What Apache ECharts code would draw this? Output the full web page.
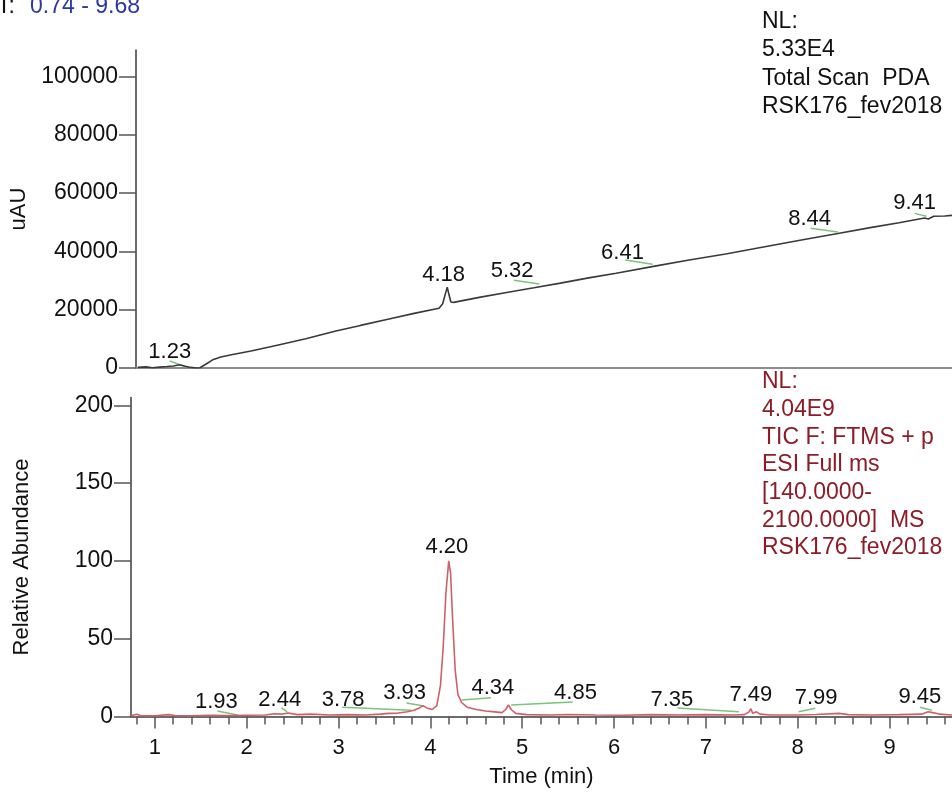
<!DOCTYPE html>
<html>
<head>
<meta charset="utf-8">
<script src="https://cdn.jsdelivr.net/npm/echarts@6/dist/echarts.min.js"></script>
<style>
html,body{margin:0;padding:0;background:#fff;}
#chart{width:952px;height:792px;}
</style>
</head>
<body>
<div id="chart"></div>
<script>
// ---- Top panel (PDA, uAU) ----
const topTime  = [0.76,0.85,0.92,1.00,1.08,1.15,1.22,1.28,1.34,1.40,1.44,1.50,1.58,1.67,1.80,2.00,2.30,2.60,2.93,3.20,3.50,3.80,4.06,4.10,4.13,4.15,4.17,4.19,4.22,4.50,4.80,5.10,5.39,5.70,6.00,6.44,6.80,7.20,7.60,8.00,8.43,8.80,9.10,9.38,9.42,9.48,9.60,9.68];
const topValue = [200,400,100,300,500,700,1100,600,200,0,100,1200,2800,3800,4600,5800,7900,10000,12700,14600,16700,18800,20500,22000,25500,27700,25000,22600,22500,24200,25900,27500,29100,30900,32500,35000,37000,39100,41400,43700,46100,48200,49800,51400,51100,52000,52100,52300];
const topGreenTime  = [1.11,1.29,null,4.88,5.16,null,6.10,6.40,null,8.13,8.43,null,9.27,9.40];
const topGreenValue = [2400,300,null,30100,28800,null,37000,35600,null,47900,46600,null,53000,52000];
const topPeakText  = ['1.23','4.18','5.32','6.41','8.44','9.41'];
const topPeakTime  = [1.11,4.11,4.86,6.07,8.12,9.27];
const topPeakValue = [5500,32000,33300,39500,51000,56500];
const topYLabels = [0,20000,40000,60000,80000,100000];
const topYMinor  = [5000,10000,15000,25000,30000,35000,45000,50000,55000,65000,70000,75000,85000,90000,95000,105000];

// ---- Bottom panel (TIC, relative abundance) ----
const botTime  = [0.74,0.80,0.85,1.00,1.15,1.22,1.40,1.60,1.80,2.00,2.20,2.30,2.38,2.45,2.55,2.70,2.90,3.10,3.30,3.45,3.55,3.65,3.75,3.82,3.88,3.92,3.96,4.02,4.07,4.11,4.14,4.17,4.20,4.22,4.24,4.27,4.30,4.34,4.40,4.50,4.60,4.70,4.78,4.82,4.85,4.88,4.93,5.05,5.30,5.50,5.80,6.10,6.40,6.70,7.00,7.30,7.42,7.47,7.49,7.51,7.55,7.59,7.70,8.00,8.20,8.45,8.55,8.80,9.10,9.35,9.42,9.47,9.55,9.68];
const botValue = [0.5,1.5,0.5,0.5,1.2,0.6,0.5,0.8,0.6,0.8,1.0,1.8,1.5,2.2,1.2,1.5,1.0,1.2,1.0,1.5,2.0,2.2,3.0,4.0,5.5,7.0,5.5,4.5,7,20,45,80,100,92,65,30,14,9,6,4.5,3.5,3,2.5,4.5,7.5,4.5,2,1.2,1.0,1.3,1.0,0.8,1.2,1.0,1.2,1.0,1.2,3,5,2,3,1.5,1.0,1.0,1.3,2.0,1.2,1.0,1.2,1.5,3,2.5,1.5,1.0];
const botGreenTime  = [1.68,1.90,null,2.38,2.44,null,3.04,3.79,null,3.74,3.93,null,4.34,4.66,null,4.88,5.55,null,6.69,7.36,null,8.01,8.19,null,9.33,9.46];
const botGreenValue = [3.5,1,null,5.5,3,null,6,4,null,8.7,6.8,null,10.6,12,null,7.4,9.3,null,5.5,3,null,3,5.3,null,6,4];
const botPeakText  = ['1.93','2.44','3.78','3.93','4.20','4.34','4.85','7.35','7.49','7.99','9.45'];
const botPeakTime  = [1.67,2.36,3.05,3.72,4.18,4.68,5.58,6.63,7.49,8.20,9.33];
const botPeakValue = [9.3,10.6,10.6,15,109,18.3,15,10.6,13.8,11.9,12.5];
const botYLabels = [0,50,100,150,200];
const botYMinor  = [10,20,30,40,60,70,80,90,110,120,130,140,160,170,180,190];

const xLabels = [1,2,3,4,5,6,7,8,9];
const xMinor  = [0.8,1.2,1.4,1.6,1.8,2.2,2.4,2.6,2.8,3.2,3.4,3.6,3.8,4.2,4.4,4.6,4.8,5.2,5.4,5.6,5.8,6.2,6.4,6.6,6.8,7.2,7.4,7.6,7.8,8.2,8.4,8.6,8.8,9.2,9.4,9.6];

const FONT = '"Liberation Sans", Arial, sans-serif';
const zip = (a, b) => a.map((t, i) => [t, b[i]]);
const zip3 = (a, b, c) => a.map((t, i) => [t, b[i], c[i]]);

const chart = echarts.init(document.getElementById('chart'), null, {renderer: 'canvas'});

const axisColor = '#3c3c3c';
const TXT = '#111111';
const baseY = {
  type: 'value', splitLine: {show: false},
  axisLine: {show: true, lineStyle: {color: axisColor, width: 1.5}},
  axisLabel: {color: TXT, fontSize: 23, fontFamily: FONT, margin: 18, formatter: v => String(v)},
  nameTextStyle: {color: TXT, fontSize: 22, fontFamily: FONT},
  nameLocation: 'middle', nameRotate: 90
};
const peakLabel = {show: true, position: 'inside', formatter: p => p.data[2], color: TXT, fontSize: 22, fontFamily: FONT};

const option = {
  backgroundColor: '#ffffff',
  animation: false,
  textStyle: {fontFamily: FONT},
  grid: [
    {left: 131, right: -3, top: 50, bottom: 424},
    {left: 131, right: -3, top: 397.5, bottom: 75.5}
  ],
  xAxis: [
    {type: 'value', gridIndex: 0, min: 0.74, max: 9.68, position: 'bottom',
     axisLine: {show: true, onZero: false, lineStyle: {color: '#8c8c8c', width: 2}},
     axisTick: {show: false}, axisLabel: {show: false}, splitLine: {show: false}},
    {type: 'value', gridIndex: 1, min: 0.74, max: 9.68, position: 'bottom',
     axisLine: {show: true, onZero: false, lineStyle: {color: axisColor, width: 1.5}},
     axisTick: {show: true, length: 12, customValues: xLabels, lineStyle: {color: '#555', width: 1.5}},
     axisLabel: {show: true, customValues: xLabels, color: TXT, fontSize: 22, fontFamily: FONT, margin: 20},
     splitLine: {show: false},
     name: 'Time (min)', nameLocation: 'middle', nameGap: 49,
     nameTextStyle: {color: TXT, fontSize: 22, fontFamily: FONT}},
    {type: 'value', gridIndex: 1, min: 0.74, max: 9.68, position: 'bottom',
     axisLine: {show: false, onZero: false},
     axisTick: {show: true, length: 8, customValues: xMinor, lineStyle: {color: '#555', width: 1.5}},
     axisLabel: {show: false}, splitLine: {show: false}}
  ],
  yAxis: [
    Object.assign({}, baseY, {gridIndex: 0, min: 0, max: 109000,
      axisTick: {show: true, length: 17, customValues: topYLabels, lineStyle: {color: '#555', width: 1.5}},
      axisLabel: Object.assign({}, baseY.axisLabel, {customValues: topYLabels}),
      name: 'uAU', nameGap: 106}),
    {type: 'value', gridIndex: 0, min: 0, max: 109000, splitLine: {show: false},
      axisLine: {show: false}, axisLabel: {show: false},
      axisTick: {show: true, length: 9, customValues: topYMinor, lineStyle: {color: '#555', width: 1.5}}},
    Object.assign({}, baseY, {gridIndex: 1, min: 0, max: 205,
      axisTick: {show: true, length: 17, customValues: botYLabels, lineStyle: {color: '#555', width: 1.5}},
      axisLabel: Object.assign({}, baseY.axisLabel, {customValues: botYLabels}),
      name: 'Relative Abundance', nameGap: 98}),
    {type: 'value', gridIndex: 1, min: 0, max: 205, splitLine: {show: false},
      axisLine: {show: false}, axisLabel: {show: false},
      axisTick: {show: true, length: 9, customValues: botYMinor, lineStyle: {color: '#555', width: 1.5}}}
  ],
  series: [
    {type: 'line', xAxisIndex: 0, yAxisIndex: 0, data: zip(topTime, topValue), showSymbol: false,
     symbol: 'none', lineStyle: {color: '#3a3a3a', width: 1.6}, z: 3},
    {type: 'line', xAxisIndex: 0, yAxisIndex: 0, data: zip(topGreenTime, topGreenValue), symbol: 'none',
     connectNulls: false, lineStyle: {color: '#7cc47c', width: 1.5}, z: 2},
    {type: 'scatter', xAxisIndex: 0, yAxisIndex: 0, data: zip3(topPeakTime, topPeakValue, topPeakText),
     symbolSize: 0, silent: true, itemStyle: {opacity: 1}, label: peakLabel, z: 5},
    {type: 'line', xAxisIndex: 1, yAxisIndex: 2, data: zip(botTime, botValue), symbol: 'none',
     lineStyle: {color: '#cf5f69', width: 1.6}, z: 3},
    {type: 'line', xAxisIndex: 1, yAxisIndex: 2, data: zip(botGreenTime, botGreenValue), symbol: 'none',
     connectNulls: false, lineStyle: {color: '#7cc47c', width: 1.5}, z: 2},
    {type: 'scatter', xAxisIndex: 1, yAxisIndex: 2, data: zip3(botPeakTime, botPeakValue, botPeakText),
     symbolSize: 0, silent: true, itemStyle: {opacity: 1}, label: peakLabel, z: 5}
  ],
  graphic: [
    {type: 'text', x: 15, y: 7, style: {text: 'RT:', align: 'right', verticalAlign: 'middle',
      fill: TXT, font: '23px ' + FONT}},
    {type: 'text', x: 30, y: 7, style: {text: '0.74 - 9.68', align: 'left', verticalAlign: 'middle',
      fill: '#2b37a3', font: '23px ' + FONT}},
    {type: 'text', x: 762, y: 7, style: {text: 'NL:\n5.33E4\nTotal Scan  PDA\nRSK176_fev2018',
      fill: TXT, font: '23px ' + FONT, lineHeight: 28.5}},
    {type: 'text', x: 762, y: 368, style: {text: 'NL:\n4.04E9\nTIC F: FTMS + p\nESI Full ms\n[140.0000-\n2100.0000]  MS\nRSK176_fev2018',
      fill: '#8e1c26', font: '23px ' + FONT, lineHeight: 27.7}}
  ]
};
chart.setOption(option);
</script>
</body>
</html>
